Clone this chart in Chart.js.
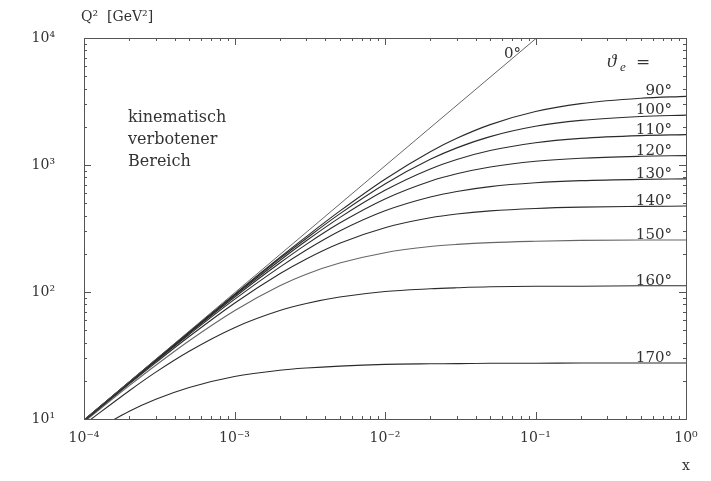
<!DOCTYPE html>
<html>
<head>
<meta charset="utf-8">
<script src="https://cdn.jsdelivr.net/npm/chart.js@4"></script>
<style>
  html, body { margin: 0; padding: 0; background: #fff; }
  #wrap { width: 711px; height: 481px; }
</style>
</head>
<body>
<div id="wrap"><canvas id="chart" width="711" height="481"></canvas></div>
<script>
const xValues = [1e-4, 2e-4, 3e-4, 5e-4, 1e-3, 2e-3, 3e-3, 5e-3, 1e-2, 2e-2, 3e-2, 5e-2, 0.1, 0.2, 0.5, 1];

// Q^2 [GeV^2] for fixed electron angle
const q2_90  = [9.81, 19.6, 29.3, 48.5, 95.8, 187, 273, 433, 773, 1272, 1622, 2079, 2636, 3043, 3355, 3473];
const q2_100 = [9.80, 19.5, 29.2, 48.3, 94.7, 183, 264, 412, 709, 1108, 1364, 1673, 2016, 2246, 2411, 2471];
const q2_110 = [9.79, 19.5, 29.0, 47.9, 93.2, 177, 253, 385, 632, 931, 1105, 1299, 1497, 1620, 1704, 1734];
const q2_120 = [9.76, 19.4, 28.8, 47.3, 90.9, 169, 237, 349, 541, 746, 853, 965, 1070, 1131, 1171, 1186];
const q2_130 = [9.72, 19.2, 28.5, 46.3, 87.4, 157, 214, 302, 436, 560, 619, 676, 725, 753, 771, 777];
const q2_140 = [9.64, 18.9, 27.8, 44.6, 81.6, 139, 182, 242, 321, 384, 411, 435, 455, 466, 472, 475];
const q2_150 = [9.48, 18.3, 26.5, 41.3, 71.2, 112, 138, 169, 204, 228, 237, 245, 251, 255, 257, 257];
const q2_160 = [9.05, 16.7, 23.4, 34.2, 52.4, 71.4, 81.2, 91.2, 101, 106, 108, 110, 111, 111, 112, 112];
const q2_170 = [7.25, 11.5, 14.3, 17.7, 21.6, 24.2, 25.2, 26.1, 26.9, 27.2, 27.3, 27.5, 27.5, 27.6, 27.6, 27.6];

// theta_e = 0 deg : kinematic limit (straight line)
const xLimit = [1e-4, 1];
const q2Limit = [9.84, 98400];

const angleLabels = ['90°', '100°', '110°', '120°', '130°', '140°', '150°', '160°', '170°'];
const angleSeries = [q2_90, q2_100, q2_110, q2_120, q2_130, q2_140, q2_150, q2_160, q2_170];

const xTicks = [1e-4, 1e-3, 1e-2, 1e-1, 1];
const xTickLabels = ['10⁻⁴', '10⁻³', '10⁻²', '10⁻¹', '10⁰'];
const yTicks = [10, 100, 1000, 10000];
const yTickLabels = ['10¹', '10²', '10³', '10⁴'];

const ink = '#2b2b2b';
const serif = "'DejaVu Serif', 'Liberation Serif', serif";
const mathSerif = "'Liberation Serif', serif";

const datasets = angleSeries.map((vals, i) => ({
  label: angleLabels[i],
  data: xValues.map((x, j) => ({ x: x, y: vals[j] })),
  borderColor: i === 6 ? '#666' : ink,
  borderWidth: 1.1,
  pointRadius: 0,
  cubicInterpolationMode: 'monotone',
  fill: false
}));
datasets.unshift({
  label: '0°',
  data: xLimit.map((x, j) => ({ x: x, y: q2Limit[j] })),
  borderColor: '#555',
  borderWidth: 0.9,
  pointRadius: 0,
  fill: false
});

// frame with inward ticks on all four sides + texts
const decor = {
  id: 'decor',
  afterDatasetsDraw(chart) {
    const ctx = chart.ctx;
    const a = chart.chartArea;
    const xs = chart.scales.x, ys = chart.scales.y;
    ctx.save();
    ctx.strokeStyle = '#555';
    ctx.lineWidth = 1;
    ctx.strokeRect(a.left + 0.5, a.top + 0.5, a.right - a.left, a.bottom - a.top);

    ctx.beginPath();
    for (let d = -4; d < 0; d++) {
      for (let m = 1; m <= 9; m++) {
        const px = Math.round(xs.getPixelForValue(m * Math.pow(10, d))) + 0.5;
        const len = m === 1 ? 7 : 3;
        ctx.moveTo(px, a.bottom); ctx.lineTo(px, a.bottom - len);
        ctx.moveTo(px, a.top); ctx.lineTo(px, a.top + len);
      }
    }
    for (let d = 1; d < 4; d++) {
      for (let m = 1; m <= 9; m++) {
        const py = Math.round(ys.getPixelForValue(m * Math.pow(10, d))) + 0.5;
        const len = m === 1 ? 7 : 3;
        ctx.moveTo(a.left, py); ctx.lineTo(a.left + len, py);
        ctx.moveTo(a.right, py); ctx.lineTo(a.right - len, py);
      }
    }
    ctx.stroke();

    ctx.fillStyle = '#333';
    // curve labels, right aligned above each line end
    ctx.font = '15px ' + serif;
    ctx.textAlign = 'right';
    ctx.textBaseline = 'alphabetic';
    angleSeries.forEach((vals, i) => {
      const py = ys.getPixelForValue(vals[vals.length - 1]);
      ctx.fillText(angleLabels[i], 672, py - 1);
    });
    ctx.fillText('0°', 521, 58);

    // theta_e =
    ctx.textAlign = 'left';
    ctx.font = 'italic 19px ' + mathSerif;
    ctx.fillText('ϑ', 607, 67);
    ctx.font = 'italic 13px ' + mathSerif;
    ctx.fillText('e', 620, 71);
    ctx.font = '17px ' + serif;
    ctx.fillText('=', 636, 67);

    // forbidden region text
    ctx.font = '16px ' + serif;
    ctx.textBaseline = 'middle';
    ctx.fillText('kinematisch', 128, 118);
    ctx.fillText('verbotener', 128, 140);
    ctx.fillText('Bereich', 128, 162);

    // axis titles
    ctx.font = '14px ' + serif;
    ctx.fillText('Q²  [GeV²]', 81, 17);
    ctx.fillText('x', 682, 466);
    ctx.restore();
  }
};

new Chart(document.getElementById('chart').getContext('2d'), {
  type: 'line',
  data: { datasets: datasets },
  options: {
    responsive: false,
    animation: false,
    layout: { padding: { top: 38, right: 25, left: 0, bottom: 0 } },
    plugins: { legend: { display: false }, tooltip: { enabled: false } },
    scales: {
      x: {
        type: 'logarithmic',
        min: 1e-4,
        max: 1,
        afterFit: s => { s.height = 62; },
        afterBuildTicks: s => { s.ticks = xTicks.map(v => ({ value: v })); },
        grid: { display: false, drawTicks: false },
        border: { display: false },
        ticks: {
          autoSkip: false,
          maxRotation: 0,
          padding: 11,
          color: '#333',
          font: { family: serif, size: 14 },
          callback: (v, i) => xTickLabels[i]
        }
      },
      y: {
        type: 'logarithmic',
        min: 10,
        max: 10000,
        afterFit: s => { s.width = 84; },
        afterBuildTicks: s => { s.ticks = yTicks.map(v => ({ value: v })); },
        grid: { display: false, drawTicks: false },
        border: { display: false },
        ticks: {
          autoSkip: false,
          padding: 29,
          color: '#333',
          font: { family: serif, size: 14 },
          callback: (v, i) => yTickLabels[i]
        }
      }
    }
  },
  plugins: [decor]
});
</script>
</body>
</html>
